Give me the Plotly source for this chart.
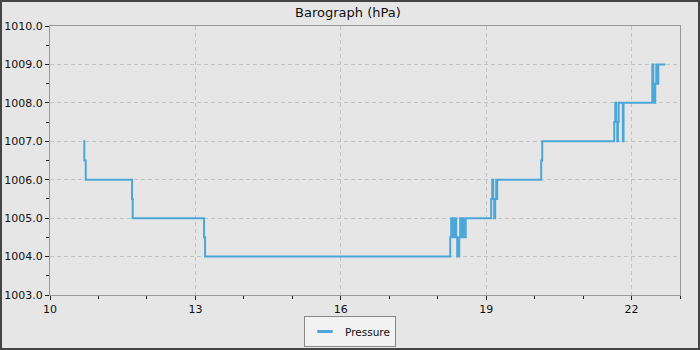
import plotly.graph_objects as go

# Time of day (hours) and pressure (hPa) readings
hours = [10.687, 10.708, 10.737, 11.693, 11.707, 13.179, 13.200,
         18.258, 18.279, 18.310, 18.341, 18.382, 18.403, 18.444, 18.464,
         18.495, 18.526, 18.547, 18.578,
         19.104, 19.125, 19.145, 19.166, 19.186, 19.207, 19.217, 19.228,
         20.136, 20.157,
         21.643, 21.664, 21.684, 21.705, 21.720, 21.735, 21.820, 21.835,
         22.428, 22.449, 22.470, 22.490, 22.510, 22.530, 22.552, 22.696]
pressure = [1007.0, 1006.5, 1006.0, 1005.5, 1005.0, 1004.5, 1004.0,
            1004.5, 1005.0, 1004.5, 1005.0, 1004.5, 1004.0, 1004.5, 1005.0,
            1004.5, 1005.0, 1004.5, 1005.0,
            1005.5, 1006.0, 1005.5, 1005.0, 1005.5, 1006.0, 1005.5, 1006.0,
            1006.5, 1007.0,
            1007.5, 1008.0, 1007.5, 1007.0, 1007.5, 1008.0, 1007.0, 1008.0,
            1009.0, 1008.5, 1008.0, 1008.5, 1009.0, 1008.5, 1009.0, 1009.0]

x_ticks = [10, 13, 16, 19, 22]
y_ticks = [1003, 1004, 1005, 1006, 1007, 1008, 1009, 1010]

BG = "#e6e6e6"
LINE = "#4ba6d9"
ML, MR, MT, MB = 50, 20, 26, 55
W, H = 700, 350
PW, PH = W - ML - MR, H - MT - MB

fig = go.Figure()
fig.add_trace(go.Scatter(
    x=hours, y=pressure, mode="lines", name="Pressure",
    line=dict(color=LINE, width=2, shape="hv"), showlegend=False,
))
# legend-only entry with a short line symbol
fig.add_trace(go.Scatter(
    x=[None], y=[None], mode="markers", name="Pressure",
    marker=dict(symbol="line-ew-open", size=11, color=LINE, line=dict(color=LINE, width=3)),
))

axis_common = dict(
    showline=True, linecolor="#999999", linewidth=1, mirror=True,
    ticks="outside", ticklen=4, tickcolor="#222222",
    showgrid=True, gridcolor="#c4c4c4", griddash="4px,3px", gridwidth=1,
    zeroline=False, automargin=False,
    tickfont=dict(family="DejaVu Sans", size=11, color="#111111"),
)

fig.update_xaxes(
    range=[10, 23], tickvals=x_ticks, ticktext=[str(v) for v in x_ticks],
    minor=dict(dtick=1, tick0=10, ticklen=3, tickcolor="#222222", showgrid=False, ticks="outside"),
    **axis_common,
)
fig.update_yaxes(
    range=[1003, 1010], tickvals=y_ticks, ticktext=[f"{v:.1f}" for v in y_ticks],
    minor=dict(dtick=0.5, tick0=1003, ticklen=3, tickcolor="#222222", showgrid=False, ticks="outside"),
    **axis_common,
)

fig.add_shape(
    type="rect", xref="paper", yref="paper",
    x0=-ML / PW + 1 / PW, x1=1 + MR / PW - 1 / PW,
    y0=-MB / PH + 1 / PH, y1=1 + MT / PH - 1 / PH,
    line=dict(color="#444444", width=2), fillcolor="rgba(0,0,0,0)", layer="above",
)

fig.update_layout(
    width=W, height=H,
    margin=dict(l=ML, r=MR, t=MT, b=MB, autoexpand=False),
    paper_bgcolor=BG, plot_bgcolor=BG,
    title=dict(text="Barograph (hPa)", x=0.497, xanchor="center",
               y=1 - 12 / H, yanchor="middle",
               font=dict(family="DejaVu Sans", size=13, color="#111111")),
    showlegend=True,
    legend=dict(orientation="h", x=(350 - ML) / PW, xanchor="center",
                y=(295 - 347) / PH, yanchor="bottom",
                bgcolor="#f2f2f2", bordercolor="#888888", borderwidth=1,
                font=dict(family="DejaVu Sans", size=10.5, color="#111111"),
                itemwidth=30, tracegroupgap=0),
)

fig.write_html("out.html")
